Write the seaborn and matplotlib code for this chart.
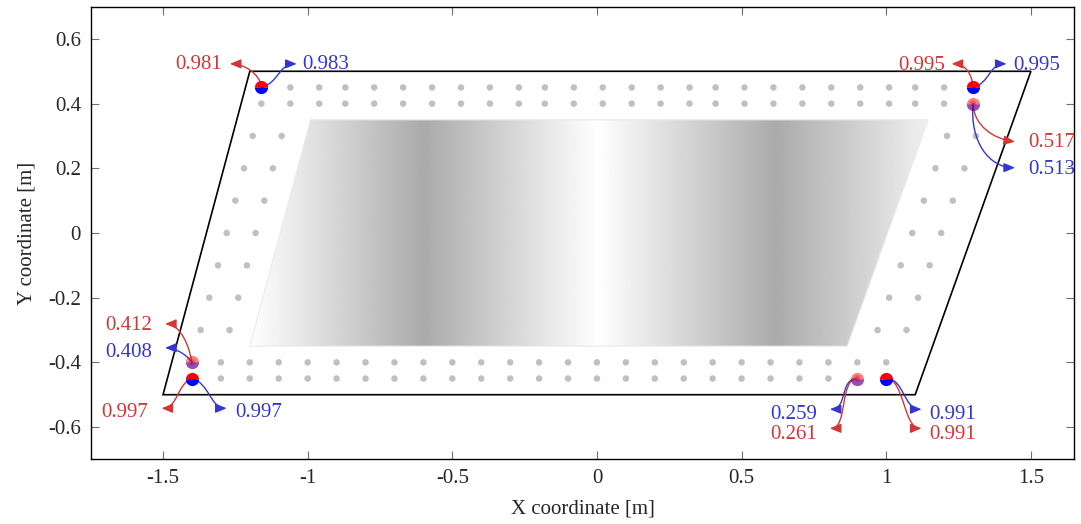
import numpy as np
import pandas as pd
import matplotlib
matplotlib.use('Agg')
import matplotlib.pyplot as plt
import seaborn as sns
from matplotlib.patches import Polygon, FancyArrowPatch
from matplotlib.path import Path

# ---------------- data ----------------
x_ticks = [-1.5, -1, -0.5, 0, 0.5, 1, 1.5]
x_tick_labels = ['-1.5', '-1', '-0.5', '0', '0.5', '1', '1.5']
y_ticks = [-0.6, -0.4, -0.2, 0, 0.2, 0.4, 0.6]
y_tick_labels = ['-0.6', '-0.4', '-0.2', '0', '0.2', '0.4', '0.6']

outline_x = [-1.5, 1.1, 1.5, -1.2]
outline_y = [-0.5, -0.5, 0.5, 0.5]

field_x = [-1.2, 0.865, 1.145, -0.99]
field_y = [-0.35, -0.35, 0.35, 0.35]
shade_stops_x = [-1.2, -0.6, 0.0, 0.62, 1.25]
shade_stops_gray = [1.0, 0.67, 1.0, 0.67, 1.0]

row_top_x = [-1.16, -1.06, -0.96, -0.87, -0.77, -0.67, -0.57, -0.47, -0.37,
             -0.27, -0.18, -0.08, 0.02, 0.12, 0.22, 0.32, 0.41, 0.51, 0.61,
             0.71, 0.81, 0.91, 1.01, 1.10, 1.20, 1.30]
row_top_y = [0.45, 0.40]
row_bot_x = [-1.4, -1.3, -1.2, -1.1, -1.0, -0.9, -0.8, -0.7, -0.6, -0.5, -0.4,
             -0.3, -0.2, -0.1, 0.0, 0.1, 0.2, 0.3, 0.4, 0.5, 0.6, 0.7, 0.8,
             0.9, 1.0]
row_bot_y = [-0.40, -0.45]
col_y = [0.3, 0.2, 0.1, 0.0, -0.1, -0.2, -0.3]
col_left1_x = [-1.19, -1.22, -1.25, -1.28, -1.31, -1.34, -1.37]
col_left2_x = [-1.09, -1.12, -1.15, -1.18, -1.21, -1.24, -1.27]
col_right1_x = [1.21, 1.17, 1.13, 1.09, 1.05, 1.01, 0.97]
col_right2_x = [1.31, 1.27, 1.23, 1.19, 1.15, 1.11, 1.07]

probe_x = [-1.16, 1.30, 1.30, -1.40, -1.40, 0.90, 1.00]
probe_y = [0.45, 0.45, 0.40, -0.40, -0.45, -0.45, -0.45]
probe_faded = [False, False, True, True, False, True, False]
red_values = ['0.981', '0.995', '0.517', '0.412', '0.997', '0.261', '0.991']
blue_values = ['0.983', '0.995', '0.513', '0.408', '0.997', '0.259', '0.991']

RED = '#d43535'
BLUE = '#3535d0'

# ---------------- style ----------------
sns.set_theme(style='white')
plt.rcParams['font.family'] = ['Liberation Serif', 'DejaVu Serif']
plt.rcParams['axes.unicode_minus'] = False

fig = plt.figure(figsize=(10.81, 5.24), dpi=100)
ax = fig.add_axes([0.0839, 0.1233, 0.9099, 0.8641])
ax.set_xlim(-1.75, 1.65)
ax.set_ylim(-0.7, 0.7)

# shaded field
field = Polygon(np.column_stack([field_x, field_y]), closed=True,
                facecolor='none', edgecolor='#e4ecec', lw=0.8, zorder=2)
ax.add_patch(field)
xg = np.linspace(min(field_x), max(field_x), 800)
gray = np.interp(xg, shade_stops_x, shade_stops_gray)
img = np.tile(gray, (2, 1))
im = ax.imshow(img, cmap='gray', vmin=0, vmax=1, aspect='auto',
               extent=[min(field_x), max(field_x), min(field_y), max(field_y)],
               interpolation='bilinear', origin='lower', zorder=1)
im.set_clip_path(field)
ax.set_xlim(-1.75, 1.65)
ax.set_ylim(-0.7, 0.7)

# outline
ax.add_patch(Polygon(np.column_stack([outline_x, outline_y]), closed=True,
                     facecolor='none', edgecolor='black', lw=1.2, zorder=3))

# grey sensor dots
dx, dy = [], []
for yy in row_top_y:
    dx += row_top_x; dy += [yy] * len(row_top_x)
for yy in row_bot_y:
    dx += row_bot_x; dy += [yy] * len(row_bot_x)
for cx in (col_left1_x, col_left2_x, col_right1_x, col_right2_x):
    dx += cx; dy += col_y
dots = pd.DataFrame({'x': dx, 'y': dy})
sns.scatterplot(data=dots, x='x', y='y', color='#c0c0c0', s=22,
                edgecolor='none', ax=ax, zorder=4, legend=False)

# probes
for px, py, faded in zip(probe_x, probe_y, probe_faded):
    if faded:
        ax.plot([px], [py], 'o', ms=9.5, mfc='red', mec='none', alpha=0.5, zorder=7)
        ax.plot([px], [py], 'o', ms=9.5, fillstyle='bottom', mfc='blue',
                mfcalt='none', mec='none', alpha=0.4, zorder=7)
    else:
        ax.plot([px], [py], 'o', ms=9.5, fillstyle='top', mfc='red',
                mfcalt='blue', mec='none', zorder=7)

# annotation layout: (probe index, colour, tip, out angle, in angle, L0, L1, text pos, ha)
layout = [
    (0, 'r', (-1.269, 0.523), 95, 180, 14, 14, (-1.296, 0.529), 'right'),
    (0, 'b', (-1.038, 0.523), 15, 0, 18, 18, (-1.020, 0.529), 'left'),
    (1, 'r', (1.226, 0.523), 95, 180, 14, 14, (1.203, 0.526), 'right'),
    (1, 'b', (1.416, 0.523), 15, 0, 18, 18, (1.438, 0.526), 'left'),
    (2, 'r', (1.445, 0.282), 272, -8, 22, 22, (1.491, 0.288), 'left'),
    (2, 'b', (1.445, 0.202), 265, 0, 38, 26, (1.491, 0.205), 'left'),
    (3, 'r', (-1.493, -0.281), 100, 180, 28, 10, (-1.539, -0.279), 'right'),
    (3, 'b', (-1.493, -0.355), 125, 180, 12, 8, (-1.539, -0.362), 'right'),
    (4, 'r', (-1.505, -0.542), 200, 180, 16, 16, (-1.551, -0.547), 'right'),
    (4, 'b', (-1.280, -0.542), -15, 0, 18, 16, (-1.251, -0.547), 'left'),
    (5, 'b', (0.805, -0.545), 180, 180, 18, 18, (0.762, -0.553), 'right'),
    (5, 'r', (0.805, -0.604), 180, 180, 18, 18, (0.762, -0.614), 'right'),
    (6, 'b', (1.122, -0.545), 0, 0, 18, 18, (1.149, -0.553), 'left'),
    (6, 'r', (1.122, -0.604), 0, 0, 18, 18, (1.149, -0.614), 'left'),
]


def curved_arrow(p0, p3, a0, a1, L0, L1, color):
    T = ax.transData
    P0 = T.transform(p0)
    P3 = T.transform(p3)
    d0 = np.array([np.cos(np.radians(a0)), np.sin(np.radians(a0))])
    d1 = np.array([np.cos(np.radians(a1)), np.sin(np.radians(a1))])
    P1 = P0 + L0 * d0
    P2 = P3 - L1 * d1
    verts = T.inverted().transform(np.array([P0, P1, P2, P3]))
    path = Path(verts, [Path.MOVETO, Path.CURVE4, Path.CURVE4, Path.CURVE4])
    patch = FancyArrowPatch(path=path,
                            arrowstyle='-|>,head_length=0.6,head_width=0.25',
                            mutation_scale=11, color=color, lw=1.0, zorder=6)
    ax.add_patch(patch)


for idx, c, tip, a0, a1, L0, L1, tpos, ha in layout:
    color = RED if c == 'r' else BLUE
    label = red_values[idx] if c == 'r' else blue_values[idx]
    curved_arrow((probe_x[idx], probe_y[idx]), tip, a0, a1, L0, L1, color)
    ax.text(tpos[0], tpos[1], label, color=color, ha=ha, va='center_baseline',
            fontsize=15, zorder=8, clip_on=False)

# axes cosmetics
ax.set_xticks(x_ticks)
ax.set_xticklabels(x_tick_labels)
ax.set_yticks(y_ticks)
ax.set_yticklabels(y_tick_labels)
ax.tick_params(direction='in', length=6, width=0.8, color='#707070',
               top=True, right=True, bottom=True, left=True,
               labelsize=15, pad=7)
for s in ax.spines.values():
    s.set_color('black')
    s.set_linewidth(1.0)
ax.set_xlabel('X coordinate [m]', fontsize=15, labelpad=8)
ax.set_ylabel('Y coordinate [m]', fontsize=15, labelpad=8)
ax.grid(False)

fig.savefig('out.png', dpi=100, facecolor='white')
